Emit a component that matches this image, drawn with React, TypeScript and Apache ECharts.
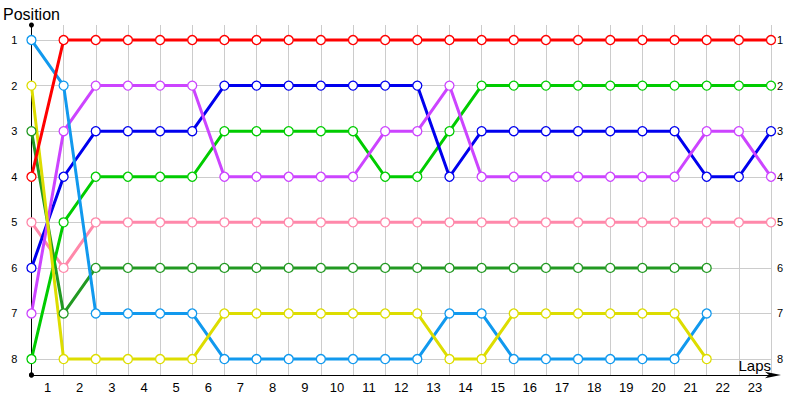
import React, { useEffect, useRef } from "react";
import * as echarts from "echarts";

const laps = Array.from({ length: 24 }, (_, i) => i); // gridline laps 0..23
const lapLabels = ["1","2","3","4","5","6","7","8","9","10","11","12","13","14","15","16","17","18","19","20","21","22","23"];
const positionTicks = [1, 2, 3, 4, 5, 6, 7, 8];

const redPos = [4, 1, 1, 1, 1, 1, 1, 1, 1, 1, 1, 1, 1, 1, 1, 1, 1, 1, 1, 1, 1, 1, 1, 1];
const lightBluePos = [1, 2, 7, 7, 7, 7, 8, 8, 8, 8, 8, 8, 8, 7, 7, 8, 8, 8, 8, 8, 8, 7];
const yellowPos = [2, 8, 8, 8, 8, 8, 7, 7, 7, 7, 7, 7, 7, 8, 8, 7, 7, 7, 7, 7, 7, 8];
const darkGreenPos = [3, 7, 6, 6, 6, 6, 6, 6, 6, 6, 6, 6, 6, 6, 6, 6, 6, 6, 6, 6, 6, 6];
const pinkPos = [5, 6, 5, 5, 5, 5, 5, 5, 5, 5, 5, 5, 5, 5, 5, 5, 5, 5, 5, 5, 5, 5, 5, 5];
const bluePos = [6, 4, 3, 3, 3, 3, 2, 2, 2, 2, 2, 2, 2, 4, 3, 3, 3, 3, 3, 3, 3, 4, 4, 3];
const magentaPos = [7, 3, 2, 2, 2, 2, 4, 4, 4, 4, 4, 3, 3, 2, 4, 4, 4, 4, 4, 4, 4, 3, 3, 4];
const greenPos = [8, 5, 4, 4, 4, 4, 3, 3, 3, 3, 3, 4, 4, 3, 2, 2, 2, 2, 2, 2, 2, 2, 2, 2];

const seriesDefs = [
  { name: "Pink", color: "#ff88aa", data: pinkPos },
  { name: "Dark green", color: "#229922", data: darkGreenPos },
  { name: "Green", color: "#00cc00", data: greenPos },
  { name: "Blue", color: "#0000ee", data: bluePos },
  { name: "Magenta", color: "#cc44ff", data: magentaPos },
  { name: "Light blue", color: "#1199ee", data: lightBluePos },
  { name: "Yellow", color: "#dddd00", data: yellowPos },
  { name: "Red", color: "#ff0000", data: redPos },
];

const FONT = "Liberation Sans";

export default function App() {
  const ref = useRef<HTMLDivElement>(null);
  useEffect(() => {
    if (!ref.current) return;
    const chart = echarts.init(ref.current, null, { renderer: "svg" });
    const yCommon = {
      type: "value",
      inverse: true,
      min: 0.67,
      max: 8.35,
    };
    chart.setOption({
      animation: false,
      backgroundColor: "#fff",
      grid: { left: 31, right: 29, top: 25, bottom: 25 },
      xAxis: {
        type: "value",
        min: 0,
        max: 23,
        name: "Laps",
        nameLocation: "end",
        nameGap: 0,
        nameTextStyle: {
          fontFamily: FONT,
          fontSize: 15,
          color: "#000",
          align: "right",
          verticalAlign: "bottom",
          padding: [0, 0, 2, 0],
        },
        axisLine: {
          show: true,
          lineStyle: { color: "#000", width: 1 },
          symbol: ["circle", "arrow"],
          symbolSize: [5, 16],
          symbolOffset: [0, 10],
        },
        axisTick: { show: false, customValues: laps },
        splitLine: { show: true, lineStyle: { color: "#cccccc", width: 1 } },
        axisLabel: {
          customValues: lapLabels.map((_, i) => i + 0.5),
          formatter: (v: number) => lapLabels[Math.round(v - 0.5)] ?? "",
          fontFamily: FONT,
          fontSize: 13,
          color: "#000",
          margin: 6,
        },
      },
      yAxis: [
        {
          ...yCommon,
          position: "left",
          name: "Position",
          nameLocation: "start",
          nameGap: 3,
          nameTextStyle: { fontFamily: FONT, fontSize: 16, color: "#000" },
          axisLine: {
            show: true,
            lineStyle: { color: "#000", width: 1 },
            symbol: ["circle", "circle"],
            symbolSize: [5, 5],
          },
          axisTick: { show: false, customValues: positionTicks },
          splitLine: { show: true, lineStyle: { color: "#cccccc", width: 1 } },
          axisLabel: {
            customValues: positionTicks,
            fontFamily: FONT,
            fontSize: 11,
            color: "#000",
            margin: 14,
          },
        },
        {
          ...yCommon,
          position: "right",
          axisLine: { show: false },
          axisTick: { show: false, customValues: positionTicks },
          splitLine: { show: false },
          axisLabel: {
            customValues: positionTicks,
            fontFamily: FONT,
            fontSize: 11,
            color: "#000",
            margin: 6,
          },
        },
      ],
      series: seriesDefs.map((s) => ({
        name: s.name,
        type: "line",
        yAxisIndex: 0,
        data: s.data.map((p, i) => [laps[i], p]),
        symbol: "circle",
        symbolSize: 9,
        showSymbol: true,
        lineStyle: { color: s.color, width: 3 },
        itemStyle: { color: "#ffffff", borderColor: s.color, borderWidth: 1.3 },
        emphasis: { disabled: true },
      })),
    });
    return () => chart.dispose();
  }, []);
  return <div ref={ref} style={{ width: 800, height: 400, position: "absolute", left: 0, top: 0 }} />;
}
